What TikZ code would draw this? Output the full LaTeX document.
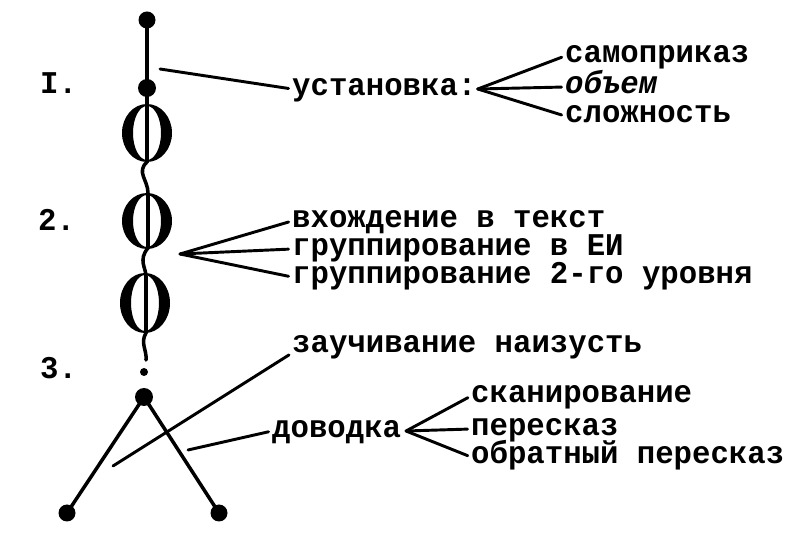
\documentclass[tikz,border=0pt]{standalone}
\usepackage{fontspec}
\setmonofont[FakeStretch=0.97]{Liberation Mono}
\begin{document}
\begin{tikzpicture}[x=0.03cm,y=-0.03cm,
    txt/.style={font={\ttfamily\bfseries\fontsize{27}{29}\selectfont},
      inner sep=0pt, anchor=west, text height=11.6pt, text depth=0pt},
    link/.style={line width=2.5pt, line cap=round, shorten >=3pt},
    stem/.style={line width=3pt, line cap=round}]
  \useasboundingbox (0,0) rectangle (800,544);
  % stage labels
  \node[txt] (n1) at (40,87) {I.};
  \node[txt] (n2) at (38,224) {2.};
  \node[txt] (n3) at (40,372) {3.};
  % the chain
  \coordinate (d0) at (147,20);
  \coordinate (d1) at (147,88);
  \coordinate (d2) at (144,372);
  \coordinate (apex) at (144,397);
  \coordinate (footl) at (67,513);
  \coordinate (footr) at (219,513);
  \draw[stem] (d0) -- (d1) -- (147,162)
    .. controls (136,172) and (148,180) .. (148,193) -- (148,248)
    .. controls (138,260) and (146,268) .. (146,276) -- (146,333)
    .. controls (140,343) and (147,350) .. (146,360);
  \foreach \x/\y/\r in {147/133/29, 147/221/28, 145/303/30}
    \fill[even odd rule] (\x,\y) ellipse[x radius=25, y radius=\r]
      (\x,\y) ellipse[x radius=14, y radius=\r-2];
  \fill (d0) circle[radius=8.5] (d1) circle[radius=9] (d2) circle[radius=4];
  \draw[stem] (footl) -- (apex) -- (footr);
  \fill (apex) circle[radius=9] (footl) circle[radius=8.5]
    (footr) circle[radius=8.5];
  % texts
  \node[txt] (ust) at (292,89) {установка:};
  \node[txt] (samo) at (565,56) {самоприказ};
  \node[txt] (obem) at (565,87) {\itshape объем};
  \node[txt] (slozh) at (565,116) {сложность};
  \node[txt] (vhod) at (292,221) {вхождение в текст};
  \node[txt] (grei) at (292,249) {группирование в ЕИ};
  \node[txt] (gr2) at (292,277) {группирование 2-го уровня};
  \node[txt] (zauch) at (292,346) {заучивание наизусть};
  \node[txt] (dovod) at (272,431) {доводка};
  \node[txt] (skan) at (471,396) {сканирование};
  \node[txt] (peres) at (471,429) {пересказ};
  \node[txt] (obrat) at (471,457) {обратный пересказ};
  % connectors
  \coordinate (s1) at (160,69);
  \coordinate (s2) at (180,254);
  \coordinate (s3) at (113,466);
  \coordinate (s4) at (188,450);
  \draw[link] (s1) -- (ust.west);
  \foreach \t in {samo,obem,slozh}
    \draw[link] ([xshift=1pt]ust.east) -- (\t.west);
  \foreach \t in {vhod,grei,gr2}
    \draw[link] (s2) -- (\t.west);
  \draw[link] (s3) -- (zauch.south west);
  \draw[link] (s4) -- (dovod.west);
  \foreach \t in {skan,peres,obrat}
    \draw[link] ([xshift=4pt]dovod.east) -- (\t.west);
\end{tikzpicture}
\end{document}
